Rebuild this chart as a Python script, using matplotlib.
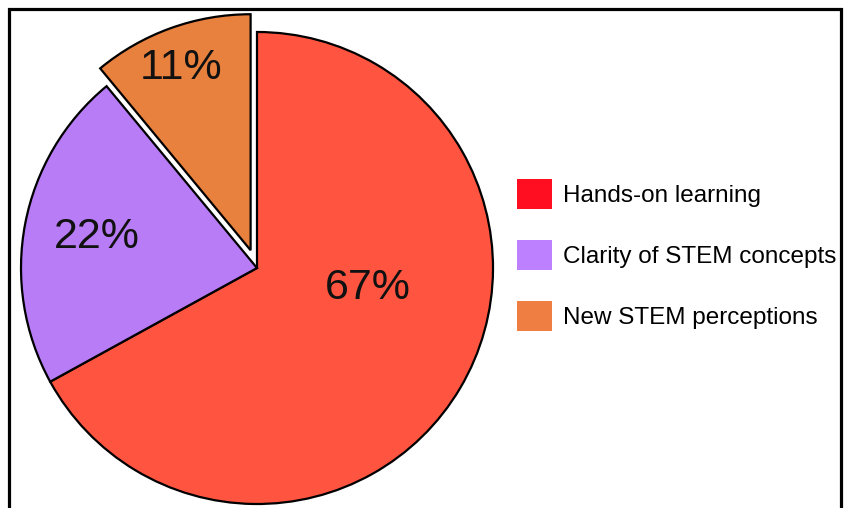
import matplotlib.pyplot as plt
from matplotlib.patches import Patch, Rectangle

plt.rcParams['font.family'] = ['Liberation Sans', 'DejaVu Sans']

labels = ['Hands-on learning', 'Clarity of STEM concepts', 'New STEM perceptions']
values = [67, 22, 11]
pct_labels = ['67%', '22%', '11%']
pie_colors = ['#FF5540', '#B87CF7', '#E8803E']
legend_colors = ['#FF0D20', '#BD80FF', '#EE7E42']
explode = [0, 0, 0.08]
# where the percentage labels sit, in pie units
label_pos = [(0.47, -0.085), (-0.678, 0.131), (-0.322, 0.847)]

fig = plt.figure(figsize=(8.44, 5.08), dpi=100)
# square axes, pie centre at (257, 240) px from bottom-left, radius 236 px
ax = fig.add_axes([7 / 844, -10 / 508, 500 / 844, 500 / 508])
wedges, _ = ax.pie(values, colors=pie_colors, startangle=90, counterclock=False,
                   explode=explode, radius=1,
                   wedgeprops=dict(edgecolor='black', linewidth=1.6))
lim = 250 / 236
ax.set_xlim(-lim, lim)
ax.set_ylim(-lim, lim)
ax.set_aspect('equal')
ax.axis('off')

for txt, (x, y) in zip(pct_labels, label_pos):
    ax.text(x, y, txt, ha='center', va='center', fontsize=31, color='#111111')

handles = [Patch(facecolor=c, edgecolor='none') for c in legend_colors]
fig.legend(handles, labels, loc='center left', bbox_to_anchor=(517 / 844, 1 - 255 / 508),
           frameon=False, fontsize=17.5, handlelength=1.44, handleheight=1.52,
           handletextpad=0.45, labelspacing=1.28, borderpad=0, borderaxespad=0)

fig.add_artist(Rectangle((9 / 844, -0.1), 832 / 844, 1.1 - 9.5 / 508,
                         transform=fig.transFigure, fill=False,
                         edgecolor='black', linewidth=2.3))

fig.savefig('out.png', dpi=100)
